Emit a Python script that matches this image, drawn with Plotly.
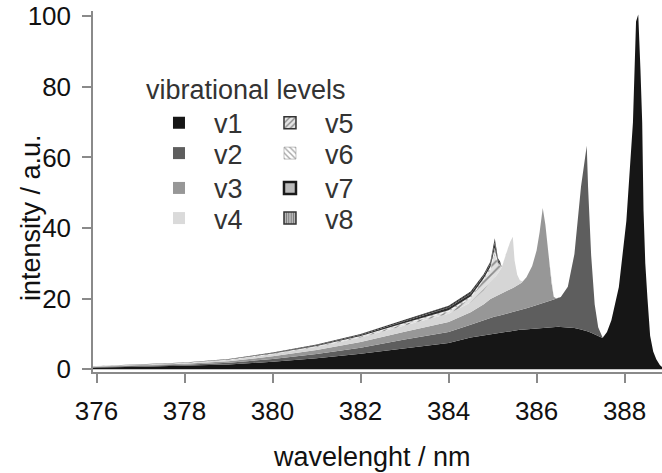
import plotly.graph_objects as go

# ---- data ----
series_names = ["v1", "v2", "v3", "v4", "v5", "v6", "v7", "v8"]

wl_v1 = [375.92, 376, 377, 378, 379, 380, 381, 382, 383, 384, 384.5, 384.8, 384.95, 385.0, 385.05,
         385.12, 385.17, 385.21, 385.5, 386.0, 386.5, 386.8, 387.1, 387.3, 387.5, 387.6, 387.7,
         387.87, 388.04, 388.14, 388.19, 388.26, 388.31, 388.36, 388.40, 388.43, 388.47, 388.52,
         388.58, 388.65, 388.72, 388.8, 388.85]
int_v1 = [0.4, 0.45, 0.7, 0.9, 1.3, 2.1, 3.1, 4.4, 6.0, 7.4, 9.0, 9.6, 10.0, 10.1, 10.2,
          10.3, 10.4, 10.5, 11.0, 11.6, 12.0, 11.8, 11.0, 10.0, 8.8, 10.5, 13.9,
          23.3, 42.0, 61.0, 70.0, 98.5, 100.5, 85.0, 70.0, 45.0, 30.0, 20.0,
          9.5, 5.0, 2.8, 1.2, 0.6]

wl_v2 = [375.92, 376, 377, 378, 379, 380, 381, 382, 383, 384, 384.5, 384.8, 384.95, 385.0, 385.05,
         385.12, 385.17, 385.21, 385.5, 386.0, 386.39, 386.55, 386.71, 386.86, 387.01, 387.07,
         387.14, 387.17, 387.24, 387.32, 387.4, 387.5, 387.55]
int_v2 = [0.15, 0.17, 0.25, 0.33, 0.5, 0.8, 1.2, 1.7, 2.4, 3.1, 3.6, 4.3, 4.6, 4.65, 4.7,
          4.8, 4.85, 4.9, 5.3, 6.5, 7.8, 8.5, 11.5, 21.0, 40.5, 46.0,
          52.5, 41.0, 22.0, 8.5, 2.5, 0.2, 0.0]

wl_v3 = [375.92, 376, 377, 378, 379, 380, 381, 382, 383, 384, 384.5, 384.8, 384.95, 385.0, 385.05,
         385.12, 385.17, 385.21, 385.4, 385.66, 385.77, 385.9, 386.0, 386.07, 386.14, 386.2,
         386.26, 386.34, 386.39, 386.45]
int_v3 = [0.12, 0.13, 0.2, 0.3, 0.45, 0.75, 1.1, 1.6, 2.2, 2.9, 3.5, 4.5, 5.3, 5.45, 5.6,
          5.8, 5.85, 5.9, 6.6, 7.6, 8.8, 11.5, 15.5, 20.5, 27.0, 22.0,
          14.5, 5.0, 0.8, 0.0]

wl_v4 = [375.92, 376, 377, 378, 379, 380, 381, 382, 383, 384, 384.5, 384.8, 384.95, 385.0, 385.05,
         385.12, 385.17, 385.21, 385.3, 385.4, 385.46, 385.5, 385.56, 385.62, 385.7]
int_v4 = [0.1, 0.1, 0.15, 0.22, 0.35, 0.6, 0.9, 1.3, 1.8, 2.3, 2.8, 4.0, 4.8, 5.1, 5.4,
          6.3, 7.0, 7.6, 10.5, 13.5, 14.5, 7.5, 3.0, 1.0, 0.0]

wl_hi = [375.92, 376, 377, 378, 379, 380, 381, 382, 383, 384, 384.5, 384.8, 384.95, 385.0, 385.05,
         385.12, 385.17, 385.21]
int_v5 = [0.03, 0.03, 0.04, 0.05, 0.08, 0.12, 0.2, 0.25, 0.4, 0.6, 1.2, 2.8, 3.4, 5.4, 7.0,
          2.5, 1.2, 0.0]
int_v6 = [0.01, 0.01, 0.02, 0.03, 0.05, 0.08, 0.1, 0.15, 0.3, 0.4, 0.5, 0.6, 0.9, 1.3, 1.5,
          0.6, 0.4, 0.0]
int_v7 = [0.01, 0.01, 0.03, 0.04, 0.08, 0.13, 0.2, 0.3, 0.5, 0.7, 0.7, 0.7, 0.8, 1.1, 1.4,
          0.6, 0.4, 0.0]
int_v8 = [0.0, 0.0, 0.02, 0.03, 0.07, 0.12, 0.2, 0.3, 0.4, 0.6, 0.7, 0.5, 0.7, 0.9, 1.3,
          0.6, 0.4, 0.0]

x_ticks = [376, 378, 380, 382, 384, 386, 388]
y_ticks = [0, 20, 40, 60, 80, 100]

# ---- styles ----
no_line = dict(width=0)
area_styles = {
    "v1": dict(fillcolor="#161616"),
    "v2": dict(fillcolor="#5e5e5e"),
    "v3": dict(fillcolor="#979797"),
    "v4": dict(fillcolor="#d6d6d6"),
    "v5": dict(fillcolor="white",
               fillpattern=dict(shape="/", fgcolor="#333333", bgcolor="#e0e0e0", size=6, solidity=0.3)),
    "v6": dict(fillcolor="white",
               fillpattern=dict(shape="\\", fgcolor="#555555", bgcolor="#f0f0f0", size=6, solidity=0.3)),
    "v7": dict(fillcolor="#2e2e2e"),
    "v8": dict(fillcolor="#222222",
               fillpattern=dict(shape="|", fgcolor="#111111", bgcolor="#555555", size=3, solidity=0.5)),
}
legend_markers = {
    "v1": dict(color="#161616", line=dict(color="#161616", width=0)),
    "v2": dict(color="#5e5e5e", line=dict(color="#5e5e5e", width=0)),
    "v3": dict(color="#979797", line=dict(color="#979797", width=0)),
    "v4": dict(color="#dadada", line=dict(color="#dadada", width=0)),
    "v5": dict(color="#e6e6e6", line=dict(color="#333333", width=1.5),
               pattern=dict(shape="/", fgcolor="#333333", bgcolor="#e6e6e6", size=5, solidity=0.35)),
    "v6": dict(color="white", line=dict(color="#888888", width=0.5),
               pattern=dict(shape="\\", fgcolor="#555555", bgcolor="white", size=5, solidity=0.35)),
    "v7": dict(color="#bbbbbb", line=dict(color="#1a1a1a", width=2.5)),
    "v8": dict(color="#bbbbbb", line=dict(color="#333333", width=1.5),
               pattern=dict(shape="|", fgcolor="#222222", bgcolor="#cccccc", size=3, solidity=0.5)),
}
legend_of = {"v1": "legend", "v5": "legend",
             "v2": "legend2", "v6": "legend2",
             "v3": "legend3", "v7": "legend3",
             "v4": "legend4", "v8": "legend4"}

data = [
    ("v1", wl_v1, int_v1), ("v2", wl_v2, int_v2), ("v3", wl_v3, int_v3), ("v4", wl_v4, int_v4),
    ("v5", wl_hi, int_v5), ("v6", wl_hi, int_v6), ("v7", wl_hi, int_v7), ("v8", wl_hi, int_v8),
]

fig = go.Figure()
for name, xs, ys in data:
    fig.add_trace(go.Scatter(
        x=xs, y=ys, name=name, mode="lines", stackgroup="bands", stackgaps="interpolate",
        line=no_line, showlegend=False, hoverinfo="skip", **area_styles[name]))

# legend entries (box swatches matching the area styles)
legend_order = ["v1", "v5", "v2", "v6", "v3", "v7", "v4", "v8"]
for name in legend_order:
    fig.add_trace(go.Bar(x=[None], y=[None], name=name, marker=legend_markers[name],
                         legend=legend_of[name], showlegend=True, hoverinfo="skip"))

font_family = "Liberation Sans, Arial, Helvetica, sans-serif"
axis_col = "#8a8a8a"
leg_font = dict(size=27, color="#333333")
leg_common = dict(orientation="h", xanchor="left", yanchor="top", bgcolor="rgba(0,0,0,0)",
                  font=leg_font, itemwidth=60, entrywidth=36, traceorder="normal",
                  itemclick=False, itemdoubleclick=False)
leg_x = 0.0896

fig.update_layout(
    width=662, height=473,
    margin=dict(l=93, r=0, t=11, b=101),
    plot_bgcolor="white", paper_bgcolor="white",
    font=dict(family=font_family, size=26, color="#111111"),
    showlegend=True,
    legend=dict(title=dict(text="vibrational levels", side="top", font=dict(size=27, color="#333333")),
                x=leg_x, y=0.854, **leg_common),
    legend2=dict(x=leg_x, y=0.673, **leg_common),
    legend3=dict(x=leg_x, y=0.5765, **leg_common),
    legend4=dict(x=leg_x, y=0.493, **leg_common),
    xaxis=dict(
        range=[375.92, 388.85], tickmode="array", tickvals=x_ticks,
        ticktext=[str(v) for v in x_ticks],
        showline=True, linecolor=axis_col, linewidth=1.5,
        ticks="outside", ticklen=9, tickwidth=1.5, tickcolor=axis_col,
        ticklabelstandoff=6,
        showgrid=False, zeroline=False, tickfont=dict(size=26, color="#111111"),
    ),
    yaxis=dict(
        range=[-0.8, 101.5], tickmode="array", tickvals=y_ticks,
        ticktext=[str(v) for v in y_ticks],
        showline=True, linecolor=axis_col, linewidth=1.5,
        ticks="outside", ticklen=9, tickwidth=1.5, tickcolor=axis_col,
        ticklabelstandoff=6,
        showgrid=False, zeroline=False, tickfont=dict(size=26, color="#111111"),
    ),
    annotations=[
        dict(text="wavelenght / nm", xref="paper", yref="paper", x=0.49, y=-0.235,
             xanchor="center", yanchor="middle", showarrow=False,
             font=dict(size=27, color="#111111")),
        dict(text="intensity / a.u.", xref="paper", yref="paper", x=-0.109, y=0.429,
             xanchor="center", yanchor="middle", showarrow=False, textangle=-90,
             font=dict(size=27, color="#111111")),
    ],
)

fig.write_html("out.html")
